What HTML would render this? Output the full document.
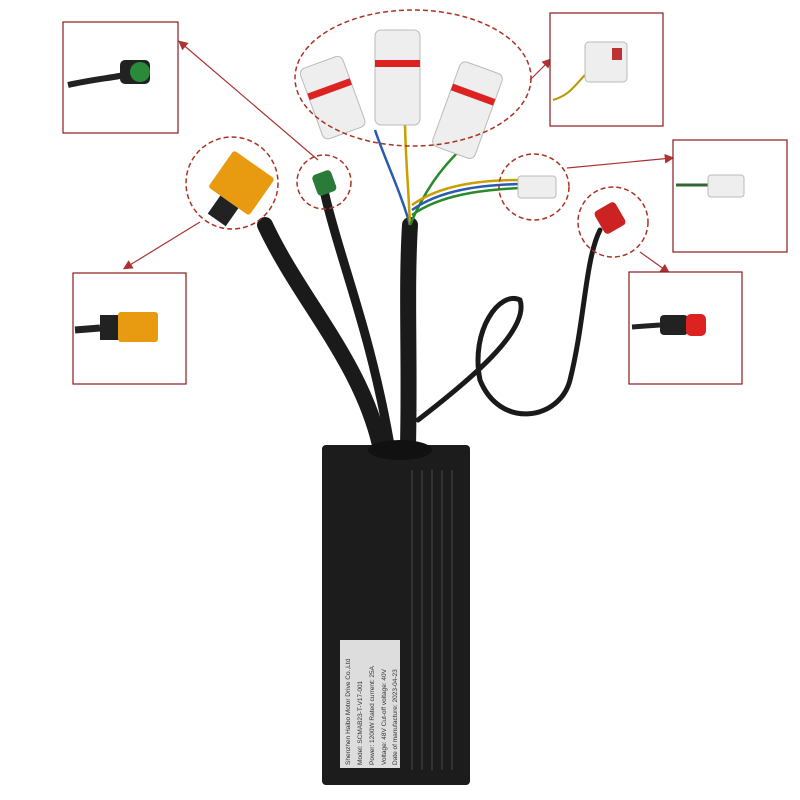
<!DOCTYPE html><html><head><style>body{margin:0;background:#fff}svg{display:block}</style></head><body>
<svg width="800" height="800" viewBox="0 0 800 800" xmlns="http://www.w3.org/2000/svg" font-family="Liberation Sans, sans-serif">
<defs><marker id="a" markerWidth="8" markerHeight="8" refX="6" refY="4" orient="auto"><path d="M0,0 L8,4 L0,8z" fill="#a33"/></marker></defs>
<!-- cables -->
<g fill="none" stroke="#1a1a1a" stroke-linecap="round">
<path d="M380,445 C360,360 300,300 265,225" stroke-width="16"/>
<path d="M390,445 C370,330 340,260 325,195" stroke-width="9"/>
<path d="M408,445 C410,360 406,290 410,225" stroke-width="16"/>
<path d="M418,420 C470,380 530,330 520,300 C500,290 470,330 480,380 C500,430 560,420 570,380 C585,320 585,260 600,230" stroke-width="5"/>
</g>
<g fill="none" stroke-width="2.5">
<path d="M410,225 C400,190 385,160 375,130" stroke="#2a5bb0"/>
<path d="M410,225 C408,180 405,150 405,120" stroke="#c9a000"/>
<path d="M410,225 C425,190 440,170 460,150" stroke="#2a8a2a"/>
<path d="M412,215 C440,195 480,190 520,188" stroke="#2a8a2a"/>
<path d="M412,210 C440,190 480,185 520,184" stroke="#2a5bb0"/>
<path d="M412,205 C440,185 480,180 520,180" stroke="#c9a000"/>
</g>
<!-- connectors -->
<g transform="rotate(35 240 185)"><rect x="215" y="160" width="50" height="45" rx="3" fill="#e89a10"/><rect x="230" y="205" width="22" height="22" fill="#222"/></g>
<rect x="314" y="172" width="20" height="22" rx="4" fill="#2a7a3a" transform="rotate(-20 324 182)"/>
<g fill="#eee" stroke="#bbb">
<rect x="310" y="60" width="45" height="75" rx="6" transform="rotate(-20 333 97)"/>
<rect x="375" y="30" width="45" height="95" rx="6"/>
<rect x="445" y="65" width="45" height="90" rx="6" transform="rotate(20 467 110)"/>
<rect x="518" y="176" width="38" height="22" rx="3"/>
</g>
<g fill="#d22"><rect x="310" y="85" width="45" height="7" transform="rotate(-20 333 97)"/><rect x="375" y="60" width="45" height="7"/><rect x="445" y="90" width="45" height="7" transform="rotate(20 467 110)"/></g>
<rect x="598" y="205" width="24" height="26" rx="4" fill="#c22" transform="rotate(-30 610 218)"/>
<!-- controller -->
<rect x="322" y="445" width="148" height="340" rx="4" fill="#1c1c1c"/>
<g stroke="#333" stroke-width="2">
<line x1="412" y1="470" x2="412" y2="770"/><line x1="422" y1="470" x2="422" y2="770"/><line x1="432" y1="470" x2="432" y2="770"/><line x1="442" y1="470" x2="442" y2="770"/><line x1="452" y1="470" x2="452" y2="770"/></g>
<ellipse cx="400" cy="450" rx="32" ry="10" fill="#111"/>
<rect x="340" y="640" width="60" height="128" fill="#ddd"/>
<g font-size="6.5" fill="#333" transform="rotate(-90)">
<text x="-765" y="350">Shenzhen Haibo Motor Drive Co.,Ltd</text>
<text x="-765" y="362">Model: SCMAB23-T-V17-001</text>
<text x="-765" y="374">Power: 1200W  Rated current: 25A</text>
<text x="-765" y="386">Voltage: 48V  Cut-off voltage: 40V</text>
<text x="-765" y="397">Date of manufacture: 2023-04-23</text>
</g>
<!-- dashed circles -->
<g fill="none" stroke="#a32" stroke-width="1.5" stroke-dasharray="5,3">
<ellipse cx="413" cy="78" rx="118" ry="68"/>
<circle cx="232" cy="183" r="46"/>
<circle cx="324" cy="182" r="27"/>
<ellipse cx="534" cy="187" rx="35" ry="33"/>
<circle cx="613" cy="222" r="35"/>
</g>
<!-- arrows -->
<g stroke="#a33" stroke-width="1.2" fill="none" marker-end="url(#a)">
<line x1="318" y1="160" x2="180" y2="42"/>
<line x1="530" y1="80" x2="550" y2="60"/>
<polyline points="567,168 672,158"/>
<line x1="640" y1="252" x2="668" y2="272"/>
<line x1="200" y1="222" x2="125" y2="268"/>
</g>
<!-- boxes -->
<g fill="#fff" stroke="#8b1a1a" stroke-width="1.2">
<rect x="63" y="22" width="115" height="111"/>
<rect x="550" y="13" width="113" height="113"/>
<rect x="673" y="140" width="114" height="112"/>
<rect x="629" y="272" width="113" height="112"/>
<rect x="73" y="273" width="113" height="111"/>
</g>
<!-- box contents -->
<path d="M68,85 C90,80 110,78 125,75" stroke="#222" stroke-width="6" fill="none"/>
<rect x="120" y="60" width="30" height="24" rx="5" fill="#222"/><circle cx="140" cy="72" r="10" fill="#2a8a3a"/>
<path d="M553,100 C570,95 575,85 585,75" stroke="#b90" stroke-width="2" fill="none"/>
<rect x="585" y="42" width="42" height="40" rx="4" fill="#eee" stroke="#bbb"/><rect x="612" y="48" width="10" height="12" fill="#b33"/>
<path d="M676,185 L708,185" stroke="#363" stroke-width="3"/>
<rect x="708" y="175" width="36" height="22" rx="3" fill="#eee" stroke="#bbb"/>
<path d="M632,327 L660,325" stroke="#222" stroke-width="5"/>
<rect x="660" y="315" width="28" height="20" rx="4" fill="#222"/><rect x="686" y="314" width="20" height="22" rx="5" fill="#d22"/>
<path d="M75,330 L100,328" stroke="#222" stroke-width="7"/>
<rect x="100" y="315" width="20" height="25" fill="#222"/><rect x="118" y="312" width="40" height="30" rx="3" fill="#e89a10"/>
</svg>
</body></html>
